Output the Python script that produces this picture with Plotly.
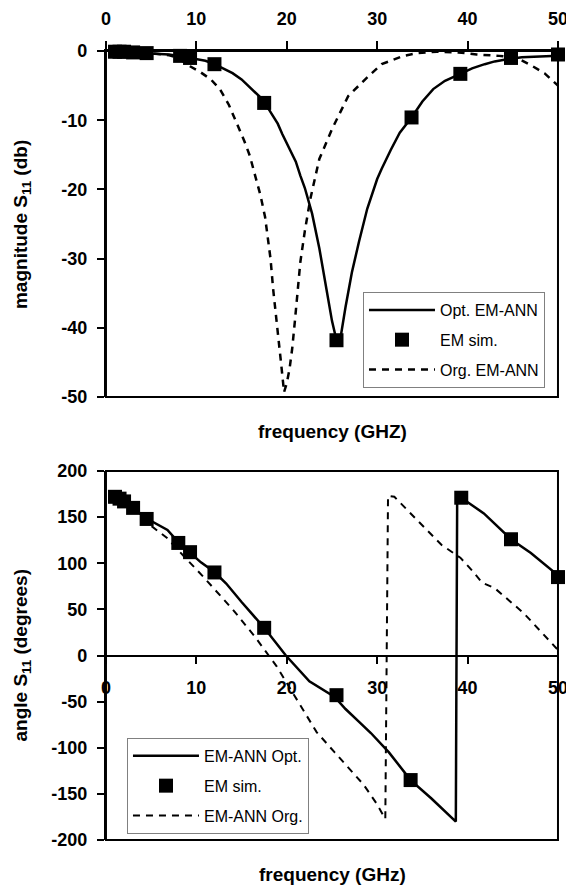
import plotly.graph_objects as go
from plotly.subplots import make_subplots

# ---- magnitude S11 (top) ----
freq_em = [1, 1.5, 2, 3, 4.5, 8.2, 9.3, 12, 17.5, 25.5, 33.8, 39.2, 44.8, 50]
mag_em = [-0.1, -0.1, -0.1, -0.2, -0.3, -0.7, -1.0, -1.9, -7.5, -41.8, -9.6, -3.3, -1.0, -0.5]

freq_opt = [1, 3, 5, 7, 8, 9.5, 11, 12, 13, 14, 15, 16, 17, 18, 19, 19.5, 20, 21, 21.5, 22,
            22.8, 23.6, 24.4, 25, 25.5, 26, 26.5, 27.2, 28, 28.9, 30, 30.5, 31.5, 32.5, 33.8,
            35, 36.2, 37.5, 39.2, 40.5, 41.9, 43, 44.8, 46, 48, 50]
mag_opt = [-0.1, -0.2, -0.3, -0.5, -0.7, -1.0, -1.4, -1.9, -2.5, -3.2, -4.1, -5.3, -6.6, -8.4,
           -10.5, -12.0, -13.3, -16.0, -18.0, -19.8, -23.5, -28.5, -34.5, -39.0, -41.8, -41.0,
           -37.0, -32.0, -27.5, -22.8, -18.5, -17.0, -14.3, -11.8, -9.6, -7.3, -5.5, -4.3,
           -3.3, -2.5, -1.9, -1.5, -1.1, -0.9, -0.8, -0.7]

freq_org = [1, 3, 5, 7, 8, 9.3, 10.5, 11.6, 12.6, 13.6, 14.6, 15.3, 15.9, 16.5, 17.1, 17.6,
            17.9, 18.2, 18.5, 18.8, 19.1, 19.4, 19.7, 20.0, 20.3, 20.6, 20.9, 21.2, 21.5, 22.0,
            22.6, 23.6, 25.0, 26.8, 28.9, 30.5, 32.9, 34.5, 36.6, 39.0, 41.0, 43.5, 45.5, 47.2,
            48.5, 50]
mag_org = [-0.1, -0.2, -0.3, -0.6, -1.0, -2.2, -3.1, -4.1, -5.5, -7.8, -10.8, -13.0, -15.1,
           -18.0, -20.9, -24.0, -26.7, -30.0, -34.5, -38.5, -42.0, -45.5, -49.3, -48.0, -46.0,
           -43.0, -39.0, -35.0, -30.5, -26.0, -21.4, -15.6, -11.3, -6.5, -3.8, -1.9, -0.7,
           -0.3, -0.1, -0.2, -0.5, -0.7, -1.0, -2.2, -3.2, -5.0]

mag_ticks = [0, -10, -20, -30, -40, -50]

# ---- angle S11 (bottom) ----
freq_em2 = [1, 1.5, 2, 3, 4.5, 8, 9.3, 12, 17.5, 25.5, 33.7, 39.3, 44.8, 50]
ang_em = [172, 170, 167, 160, 148, 122, 112, 90, 30, -43, -135, 171, 126, 85]

freq_opt2 = [0.5, 1, 2, 3, 4.4, 5.5, 6.8, 8, 9.2, 10.5, 12, 13.3, 15, 17.5, 19.9, 22.5, 25.3,
             26.5, 28, 29.3, 31.3, 33.7, 36, 38.7, 38.85, 39.3, 41.8, 44.8, 47, 50]
ang_opt2 = [174, 172, 167, 160, 149, 143, 136, 123, 112, 101, 90.5, 78, 58, 30, 0, -28, -45,
            -58, -72, -84, -105, -135, -155, -180, 173, 171, 154, 126, 111, 87]

freq_org2 = [0.5, 1, 2, 3, 4.4, 6.8, 8, 10.8, 14.1, 16.5, 18.9, 20, 21.7, 23.3, 25.3, 27,
             28.5, 29.9, 30.9, 31.2, 31.9, 34.5, 37.1, 39.2, 40.6, 41.6, 43, 46.2, 50]
ang_org2 = [174, 172, 166, 159, 145, 127, 114, 85, 49, 20, -12, -30, -57, -83, -105, -123,
            -140, -160, -177, 173, 172, 146, 120, 106, 91, 79, 73, 46, 6]

ang_ticks = [200, 150, 100, 50, 0, -50, -100, -150, -200]
freq_ticks = [0, 10, 20, 30, 40, 50]

fig = make_subplots(rows=2, cols=1)

fig.add_trace(go.Scatter(x=freq_opt, y=mag_opt, mode="lines", name="Opt. EM-ANN",
                         line=dict(color="black", width=2.5), legendgroup="a"), row=1, col=1)
fig.add_trace(go.Scatter(x=freq_em, y=mag_em, mode="markers", name="EM sim.", cliponaxis=False,
                         marker=dict(symbol="square", size=14, color="black"), legendgroup="b"),
              row=1, col=1)
fig.add_trace(go.Scatter(x=freq_org, y=mag_org, mode="lines", name="Org. EM-ANN",
                         line=dict(color="black", width=2.5, dash="7px,6px"), legendgroup="c"),
              row=1, col=1)

fig.add_trace(go.Scatter(x=freq_opt2, y=ang_opt2, mode="lines", name="EM-ANN Opt.",
                         line=dict(color="black", width=2.5), legend="legend2", legendgroup="d"),
              row=2, col=1)
fig.add_trace(go.Scatter(x=freq_em2, y=ang_em, mode="markers", name="EM sim.", cliponaxis=False,
                         marker=dict(symbol="square", size=14, color="black"),
                         legend="legend2", legendgroup="e"), row=2, col=1)
fig.add_trace(go.Scatter(x=freq_org2, y=ang_org2, mode="lines", name="EM-ANN Org.",
                         line=dict(color="black", width=2, dash="7px,6px"),
                         legend="legend2", legendgroup="f"), row=2, col=1)

tick_font = dict(family="Liberation Sans", size=18, color="black", weight="bold")
axis_common = dict(showgrid=False, zeroline=False, showline=True, linecolor="black",
                   linewidth=2, ticks="outside", tickwidth=2, tickcolor="black",
                   tickfont=tick_font, automargin=False)

fig.update_xaxes(axis_common)
fig.update_yaxes(axis_common)

# page body adds an 8px offset, so the figure is 566x880 and positions are shifted
fig.update_xaxes(domain=[0.1731, 0.9717], range=[0, 50], tickvals=freq_ticks,
                 ticktext=[str(v) for v in freq_ticks],
                 side="top", ticklen=8, ticklabelstandoff=9, row=1, col=1)
fig.update_yaxes(domain=[0.5580, 0.9511], range=[-50, 0], tickvals=mag_ticks,
                 ticktext=[str(v) for v in mag_ticks], ticklen=7,
                 ticklabelstandoff=6, row=1, col=1)
fig.update_xaxes(domain=[0.1731, 0.9717], range=[0, 50], tickvals=freq_ticks,
                 ticktext=[str(v) for v in freq_ticks],
                 anchor="free", position=0.2642, ticklen=7, ticklabelstandoff=9,
                 row=2, col=1)
fig.update_yaxes(domain=[0.0545, 0.4739], range=[-200, 200], tickvals=ang_ticks,
                 ticktext=[str(v) for v in ang_ticks], ticklen=7,
                 ticklabelstandoff=6, row=2, col=1)

frame = dict(color="black", width=2)
fig.add_shape(type="rect", xref="x domain", yref="y domain", x0=0, x1=1, y0=0, y1=1, line=frame)
fig.add_shape(type="rect", xref="x2 domain", yref="y2 domain", x0=0, x1=1, y0=0, y1=1,
              line=frame)

title_font = dict(family="Liberation Sans", size=19, color="black", weight="bold")
ann = dict(xref="paper", yref="paper", showarrow=False, font=title_font,
           xanchor="center", yanchor="middle")
fig.add_annotation(text="frequency (GHZ)", x=0.5742, y=0.5182, **ann)
fig.add_annotation(text="frequency (GHz)", x=0.5742, y=0.0148, **ann)
fig.add_annotation(text="magnitude S<sub>11</sub> (db)", x=0.0247, y=0.7545, textangle=-90,
                   **ann)
fig.add_annotation(text="angle S<sub>11</sub> (degrees)", x=0.0247, y=0.2642, textangle=-90,
                   **ann)

legend_font = dict(family="Liberation Sans", size=16, color="black")
fig.update_layout(
    width=566,
    height=880,
    margin=dict(l=0, r=0, t=0, b=0),
    plot_bgcolor="white",
    paper_bgcolor="white",
    font=dict(family="Liberation Sans", color="black"),
    legend=dict(x=0.6272, y=0.6773, xanchor="left", yanchor="top", bordercolor="#808080",
                borderwidth=1, font=legend_font, itemwidth=66, tracegroupgap=6),
    legend2=dict(x=0.2102, y=0.1705, xanchor="left", yanchor="top", bordercolor="#808080",
                 borderwidth=1, font=legend_font, itemwidth=66, tracegroupgap=6),
)

fig.write_html("out.html")
